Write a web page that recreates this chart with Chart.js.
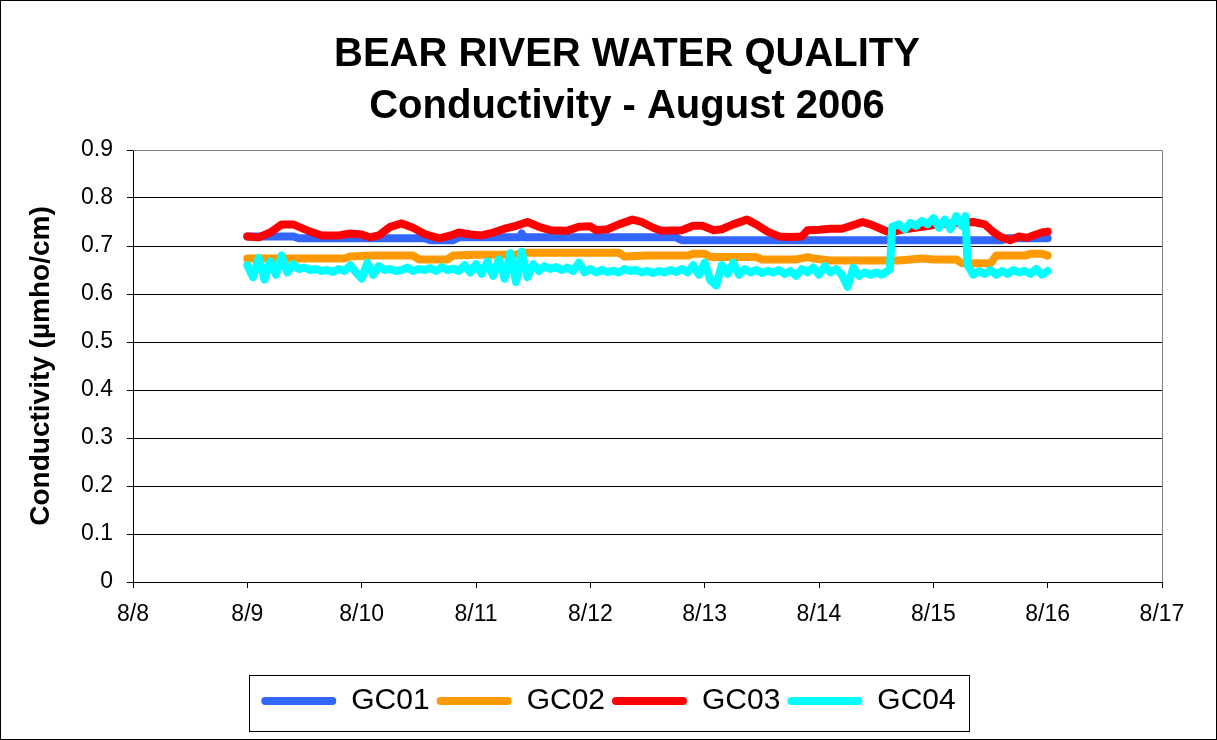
<!DOCTYPE html>
<html>
<head>
<meta charset="utf-8">
<script src="https://cdn.jsdelivr.net/npm/chart.js@4.4.1/dist/chart.umd.min.js"></script>
<style>
  html, body { margin: 0; padding: 0; background: #fff; }
  #wrap { width: 1217px; height: 740px; }
</style>
</head>
<body>
<div id="wrap"><canvas id="graficoCond" width="1217" height="740"></canvas></div>
<script>
// Dados (dia de agosto, condutividade)
const chartTitle = ['BEAR RIVER WATER QUALITY', 'Conductivity - August 2006'];
const seriesNames = ['GC01', 'GC02', 'GC03', 'GC04'];
const seriesColors = ['#3366FF', '#FF9900', '#FF0000', '#00FFFF'];
const xTickLabels = ['8/8', '8/9', '8/10', '8/11', '8/12', '8/13', '8/14', '8/15', '8/16', '8/17'];
const yTickLabels = ['0', '0.1', '0.2', '0.3', '0.4', '0.5', '0.6', '0.7', '0.8', '0.9'];

const gc01Days = [9.00, 9.40, 9.45, 10.55, 10.60, 10.80, 10.85, 11.38, 11.40, 11.42, 12.75, 12.80, 15.60, 15.65, 16.00];
const gc01Vals = [0.720, 0.720, 0.716, 0.716, 0.712, 0.712, 0.718, 0.718, 0.726, 0.718, 0.718, 0.712, 0.712, 0.716, 0.716];

const gc02Days = [9.00, 9.85, 9.90, 10.10, 10.45, 10.50, 10.75, 10.80, 11.00, 11.35, 11.42, 12.25, 12.30, 12.50, 12.85,
  12.90, 13.00, 13.05, 13.45, 13.50, 13.80, 13.90, 13.95, 14.10, 14.70, 14.80, 14.90, 15.00, 15.20, 15.25,
  15.50, 15.55, 15.80, 15.85, 15.95, 16.00];
const gc02Vals = [0.674, 0.674, 0.678, 0.680, 0.680, 0.672, 0.672, 0.680, 0.682, 0.682, 0.686, 0.686, 0.678, 0.680, 0.680,
  0.684, 0.684, 0.677, 0.677, 0.672, 0.672, 0.677, 0.674, 0.670, 0.670, 0.672, 0.674, 0.672, 0.672, 0.664,
  0.664, 0.680, 0.680, 0.684, 0.684, 0.680];

const gc03Days = [9.00, 9.10, 9.20, 9.30, 9.40, 9.55, 9.65, 9.80, 9.90, 10.00, 10.07, 10.15, 10.25, 10.35, 10.45,
  10.55, 10.68, 10.78, 10.85, 10.95, 11.05, 11.15, 11.25, 11.35, 11.45, 11.55, 11.65, 11.80, 11.90, 12.00,
  12.05, 12.15, 12.25, 12.37, 12.45, 12.55, 12.62, 12.80, 12.90, 12.98, 13.08, 13.15, 13.25, 13.37, 13.45,
  13.55, 13.65, 13.75, 13.85, 13.90, 14.00, 14.10, 14.20, 14.28, 14.38, 14.45, 14.55, 14.62, 14.75, 14.90,
  15.05, 15.20, 15.35, 15.45, 15.52, 15.58, 15.67, 15.75, 15.82, 15.90, 15.95, 16.00];
const gc03Vals = [0.720, 0.718, 0.728, 0.745, 0.745, 0.730, 0.722, 0.722, 0.726, 0.724, 0.718, 0.722, 0.740, 0.747, 0.738,
  0.725, 0.716, 0.722, 0.728, 0.724, 0.722, 0.728, 0.736, 0.742, 0.750, 0.740, 0.733, 0.732, 0.740, 0.741,
  0.733, 0.735, 0.745, 0.755, 0.750, 0.738, 0.732, 0.733, 0.742, 0.742, 0.733, 0.735, 0.745, 0.755, 0.745,
  0.730, 0.720, 0.719, 0.720, 0.733, 0.734, 0.736, 0.736, 0.742, 0.750, 0.745, 0.735, 0.728, 0.735, 0.740,
  0.745, 0.748, 0.750, 0.745, 0.730, 0.720, 0.712, 0.720, 0.717, 0.724, 0.728, 0.730];

const gc04Days = [9.00, 9.05, 9.10, 9.15, 9.20, 9.25, 9.30, 9.35, 9.40, 9.45, 9.50, 9.55, 9.60, 9.65, 9.70,
  9.75, 9.80, 9.85, 9.90, 9.95, 10.00, 10.05, 10.10, 10.15, 10.20, 10.25, 10.30, 10.35, 10.40, 10.45,
  10.50, 10.55, 10.60, 10.65, 10.70, 10.75, 10.80, 10.85, 10.90, 10.95, 11.00, 11.05, 11.10, 11.15, 11.20,
  11.25, 11.30, 11.35, 11.40, 11.45, 11.50, 11.55, 11.60, 11.65, 11.70, 11.75, 11.80, 11.85, 11.90, 11.95,
  12.00, 12.05, 12.10, 12.15, 12.20, 12.25, 12.30, 12.35, 12.40, 12.45, 12.50, 12.55, 12.60, 12.65, 12.70,
  12.75, 12.80, 12.85, 12.90, 12.95, 13.00, 13.05, 13.10, 13.15, 13.20, 13.25, 13.30, 13.35, 13.40, 13.45,
  13.50, 13.55, 13.60, 13.65, 13.70, 13.75, 13.80, 13.85, 13.90, 13.95, 14.00, 14.05, 14.10, 14.15, 14.20,
  14.25, 14.30, 14.35, 14.40, 14.45, 14.50, 14.55, 14.60, 14.62, 14.64, 14.70, 14.75, 14.80, 14.85, 14.90,
  14.95, 15.00, 15.05, 15.10, 15.15, 15.20, 15.25, 15.28, 15.30, 15.35, 15.40, 15.45, 15.50, 15.55, 15.60,
  15.65, 15.70, 15.75, 15.80, 15.85, 15.90, 15.95, 16.00];
const gc04Vals = [0.660, 0.635, 0.675, 0.630, 0.668, 0.640, 0.680, 0.645, 0.662, 0.652, 0.655, 0.650, 0.652, 0.648, 0.650,
  0.646, 0.652, 0.648, 0.660, 0.645, 0.632, 0.665, 0.640, 0.658, 0.650, 0.652, 0.648, 0.650, 0.655, 0.648,
  0.652, 0.650, 0.654, 0.648, 0.656, 0.650, 0.653, 0.648, 0.660, 0.645, 0.662, 0.642, 0.668, 0.638, 0.672,
  0.632, 0.685, 0.625, 0.688, 0.635, 0.662, 0.648, 0.658, 0.652, 0.656, 0.650, 0.655, 0.648, 0.665, 0.645,
  0.652, 0.645, 0.650, 0.646, 0.648, 0.645, 0.652, 0.648, 0.650, 0.645, 0.648, 0.644, 0.648, 0.645, 0.650,
  0.646, 0.652, 0.645, 0.660, 0.640, 0.665, 0.628, 0.618, 0.660, 0.642, 0.665, 0.640, 0.652, 0.645, 0.650,
  0.644, 0.648, 0.645, 0.650, 0.642, 0.648, 0.638, 0.652, 0.645, 0.655, 0.640, 0.658, 0.645, 0.652, 0.640,
  0.615, 0.655, 0.638, 0.645, 0.640, 0.645, 0.640, 0.648, 0.652, 0.740, 0.745, 0.735, 0.748, 0.742, 0.752,
  0.745, 0.758, 0.738, 0.755, 0.735, 0.762, 0.742, 0.762, 0.660, 0.640, 0.648, 0.642, 0.650, 0.640, 0.648,
  0.642, 0.650, 0.645, 0.648, 0.642, 0.652, 0.640, 0.648];

const allDays = [gc01Days, gc02Days, gc03Days, gc04Days];
const allVals = [gc01Vals, gc02Vals, gc03Vals, gc04Vals];

const fonte = "'Liberation Sans', Arial, sans-serif";

// Montar os datasets (GC01 desenhado primeiro, GC04 por cima)
const datasets = seriesNames.map((nome, i) => ({
    label: nome,
    data: allDays[i].map((d, k) => ({ x: d, y: allVals[i][k] })),
    borderColor: seriesColors[i],
    backgroundColor: seriesColors[i],
    borderWidth: 8,
    pointRadius: 0,
    tension: 0,
    borderJoinStyle: 'round',
    borderCapStyle: 'round',
    order: seriesNames.length - i
}));

// Título desenhado à mão (centralizado como no original)
const titulo = {
    id: 'titulo',
    afterDraw(chart) {
        const c = chart.ctx;
        c.save();
        c.fillStyle = '#000';
        c.font = 'bold 40px ' + fonte;
        c.textAlign = 'center';
        c.textBaseline = 'alphabetic';
        c.fillText(chartTitle[0], 627, 66);
        c.fillText(chartTitle[1], 627, 118);
        c.restore();
    }
};

// Molduras: borda externa, área do gráfico e caixa da legenda
const molduras = {
    id: 'molduras',
    afterDraw(chart) {
        const c = chart.ctx;
        const a = chart.chartArea;
        c.save();
        c.strokeStyle = '#000';
        c.lineWidth = 1;
        c.strokeRect(0.5, 0.5, chart.width - 1, chart.height - 1);
        c.strokeStyle = '#808080';
        c.beginPath();
        c.moveTo(a.left, a.top + 0.5);
        c.lineTo(a.right + 0.5, a.top + 0.5);
        c.lineTo(a.right + 0.5, a.bottom);
        c.stroke();
        const boxes = chart.legend.legendHitBoxes;
        if (boxes && boxes.length) {
            const first = boxes[0];
            const last = boxes[boxes.length - 1];
            c.strokeStyle = '#000';
            c.strokeRect(Math.round(first.left - 12) + 0.5, Math.round(first.top - 11) + 0.5,
                Math.round(last.left + last.width - first.left + 26), Math.round(first.height + 26));
        }
        c.restore();
    }
};

const config = {
    type: 'line',
    data: { datasets: datasets },
    options: {
        responsive: false,
        animation: false,
        layout: { padding: { left: 0, right: 0, top: 150, bottom: 14 } },
        plugins: {
            title: { display: false },
            legend: {
                position: 'bottom',
                labels: {
                    color: '#000',
                    font: { family: fonte, size: 30 },
                    boxWidth: 75,
                    boxHeight: 8,
                    padding: 7,
                    useBorderRadius: true,
                    borderRadius: 4,
                    sort: (a, b) => a.datasetIndex - b.datasetIndex,
                    generateLabels(chart) {
                        const itens = Chart.defaults.plugins.legend.labels.generateLabels(chart);
                        return itens.map(it => Object.assign(it, {
                            fillStyle: seriesColors[it.datasetIndex],
                            lineWidth: 0
                        }));
                    }
                }
            },
            tooltip: { enabled: false }
        },
        scales: {
            x: {
                type: 'linear',
                min: 8,
                max: 17,
                afterFit(scale) { scale.height = 97; },
                afterBuildTicks(scale) {
                    scale.ticks = xTickLabels.map((t, i) => ({ value: 8 + i }));
                },
                ticks: {
                    color: '#000',
                    font: { family: fonte, size: 23 },
                    padding: 13,
                    maxRotation: 0,
                    autoSkip: false,
                    callback: (v) => xTickLabels[Math.round(v) - 8]
                },
                grid: {
                    drawOnChartArea: false,
                    drawTicks: true,
                    tickLength: 6,
                    color: '#000'
                },
                border: { color: '#000', width: 1 }
            },
            y: {
                min: 0,
                max: 0.9,
                afterFit(scale) { scale.width = 133; },
                afterBuildTicks(scale) {
                    scale.ticks = yTickLabels.map((t, i) => ({ value: i / 10 }));
                },
                ticks: {
                    color: '#000',
                    font: { family: fonte, size: 23 },
                    padding: 14,
                    autoSkip: false,
                    callback: (v) => yTickLabels[Math.round(v * 10)]
                },
                grid: {
                    color: '#000',
                    lineWidth: 1,
                    tickLength: 6
                },
                border: { color: '#000', width: 1 },
                title: {
                    display: true,
                    text: 'Conductivity (µmho/cm)',
                    color: '#000',
                    font: { family: fonte, size: 28, weight: 'bold' },
                    padding: { top: 24, bottom: 0 }
                }
            },
            // eixo vazio só para reservar a margem direita
            margem: {
                position: 'right',
                display: true,
                afterFit(scale) { scale.width = 55; },
                ticks: { display: false },
                grid: { display: false, drawTicks: false },
                border: { display: false }
            }
        }
    },
    plugins: [titulo, molduras]
};

const ctx = document.getElementById('graficoCond').getContext('2d');
const graficoCond = new Chart(ctx, config);
</script>
</body>
</html>
